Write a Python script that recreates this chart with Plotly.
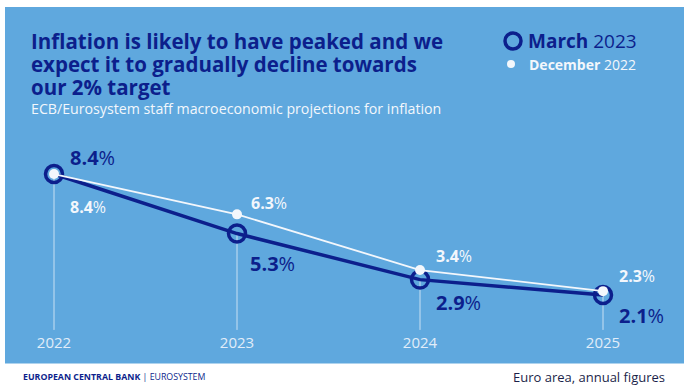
import plotly.graph_objects as go

# ---- data ----
years = [2022, 2023, 2024, 2025]
march_2023 = [8.4, 5.3, 2.9, 2.1]
december_2022 = [8.4, 6.3, 3.4, 2.3]
year_labels = ["2022", "2023", "2024", "2025"]

# ---- styles ----
W, H = 690, 388
M_T, M_B = 143, 56
PLOT_H = H - M_T - M_B
S = 19.2          # pixels per percentage point
ZERO_PX = 335.3   # pixel row of y = 0
Y0 = (ZERO_PX - (H - M_B)) / S
Y1 = Y0 + PLOT_H / S
NAVY = "#0C1F8C"
PANEL = "#5FA8DE"
WHITE = "#F3F7FC"
GRID = "#C9E0F3"
TICK = "#E1EDF9"
FONT = "Open Sans"


def px(x):
    return x / W


def py(y):
    return (H - M_B - y) / PLOT_H


fig = go.Figure()

shapes = [
    dict(type="rect", xref="paper", yref="paper", x0=px(5), x1=px(684), y0=py(363.5), y1=py(7),
         fillcolor=PANEL, line=dict(width=0), layer="below"),
]
for yr, v in zip(years, march_2023):
    shapes.append(dict(type="line", xref="x", yref="y", x0=yr, x1=yr, y0=0.28, y1=v,
                       line=dict(color=GRID, width=1), layer="below"))

# legend markers
shapes.append(dict(type="circle", xref="paper", yref="paper", xsizemode="pixel", ysizemode="pixel",
                   xanchor=px(513), yanchor=py(41), x0=-8, x1=8, y0=-8, y1=8,
                   line=dict(color=NAVY, width=3.5), fillcolor="rgba(0,0,0,0)"))
shapes.append(dict(type="circle", xref="paper", yref="paper", xsizemode="pixel", ysizemode="pixel",
                   xanchor=px(511), yanchor=py(64), x0=-4, x1=4, y0=-4, y1=4,
                   line=dict(color=WHITE, width=0), fillcolor=WHITE))

fig.add_trace(go.Scatter(
    x=years, y=march_2023, mode="lines+markers",
    line=dict(color=NAVY, width=3.5),
    marker=dict(symbol="circle-open", size=17, color=NAVY, line=dict(width=3.5, color=NAVY)),
    hoverinfo="skip", showlegend=False,
))
fig.add_trace(go.Scatter(
    x=years, y=december_2022, mode="lines+markers",
    line=dict(color=WHITE, width=1.8),
    marker=dict(symbol="circle", size=10, color=WHITE),
    hoverinfo="skip", showlegend=False,
))

annotations = []
march_off = [(14, 17), (11, -30), (14, -23), (14, -21)]
dec_off = [(14, -33), (12, 11), (14, 14), (14, 15)]
for yr, v, (dx, dy) in zip(years, march_2023, march_off):
    annotations.append(dict(x=yr, y=v, xref="x", yref="y", text=f"<b>{v:.1f}</b>%", showarrow=False,
                            xanchor="left", yanchor="middle", xshift=dx, yshift=dy,
                            font=dict(family=FONT, size=20, color=NAVY)))
for yr, v, (dx, dy) in zip(years, december_2022, dec_off):
    annotations.append(dict(x=yr, y=v, xref="x", yref="y", text=f"<b>{v:.1f}</b>%", showarrow=False,
                            xanchor="left", yanchor="middle", xshift=dx, yshift=dy,
                            font=dict(family=FONT, size=16, color=WHITE)))

title_lines = ["Inflation is likely to have peaked and we",
               "expect it to gradually decline towards",
               "our 2% target"]
for i, t in enumerate(title_lines):
    annotations.append(dict(x=px(29), y=py(41 + 23 * i), xref="paper", yref="paper", text=f"<b>{t}</b>",
                            showarrow=False, xanchor="left", yanchor="middle",
                            font=dict(family=FONT, size=20.5, color=NAVY)))
annotations.append(dict(x=px(29), y=py(109), xref="paper", yref="paper",
                        text="ECB/Eurosystem staff macroeconomic projections for inflation",
                        showarrow=False, xanchor="left", yanchor="middle",
                        font=dict(family=FONT, size=14.2, color=WHITE)))
annotations.append(dict(x=px(526), y=py(41), xref="paper", yref="paper", text="<b>March</b> 2023",
                        showarrow=False, xanchor="left", yanchor="middle",
                        font=dict(family=FONT, size=19, color=NAVY)))
annotations.append(dict(x=px(527), y=py(64), xref="paper", yref="paper", text="<b>December</b> 2022",
                        showarrow=False, xanchor="left", yanchor="middle",
                        font=dict(family=FONT, size=14, color=WHITE)))
annotations.append(dict(x=px(21), y=py(376.5), xref="paper", yref="paper",
                        text="<b>EUROPEAN CENTRAL BANK</b> | EUROSYSTEM",
                        showarrow=False, xanchor="left", yanchor="middle",
                        font=dict(family=FONT, size=8.8, color=NAVY)))
annotations.append(dict(x=px(667), y=py(376.5), xref="paper", yref="paper",
                        text="Euro area, annual figures",
                        showarrow=False, xanchor="right", yanchor="middle",
                        font=dict(family=FONT, size=13, color="#1B1F4A")))

fig.update_layout(
    width=W, height=H,
    margin=dict(l=0, r=0, t=M_T, b=M_B, pad=0),
    paper_bgcolor="white", plot_bgcolor="rgba(0,0,0,0)",
    shapes=shapes, annotations=annotations,
    xaxis=dict(range=[2022 - 54 / 183, 2022 + 636 / 183], tickvals=years, ticktext=year_labels,
               showgrid=False, zeroline=False, showline=False, ticks="",
               tickfont=dict(family=FONT, size=15, color=TICK), fixedrange=True),
    yaxis=dict(range=[Y0, Y1], visible=False, fixedrange=True),
    showlegend=False,
)

fig.write_html("out.html", config={"displayModeBar": False},
               post_script="document.body.style.margin='0';document.body.style.overflow='hidden';")
